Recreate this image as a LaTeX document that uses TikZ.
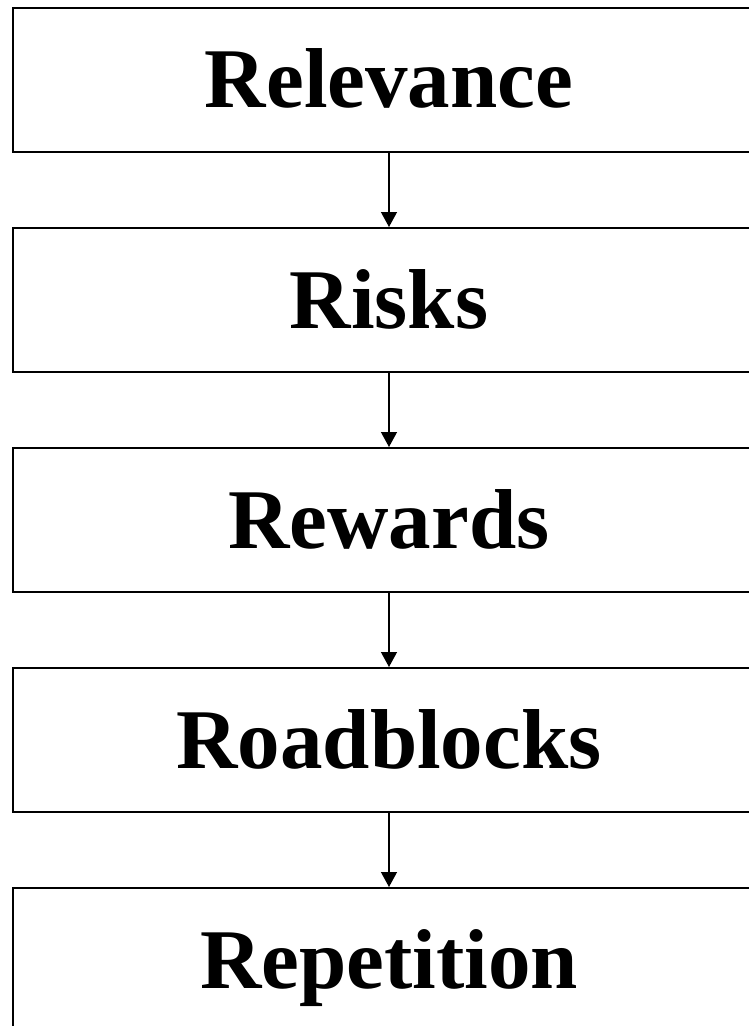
\documentclass[tikz,border=0pt]{standalone}
\usepackage{fontspec}
\setmainfont{Liberation Serif}
\usetikzlibrary{arrows.meta}
\begin{document}
\begin{tikzpicture}[x=1pt,y=-1pt,
  stagebox/.style={draw=black, line width=2pt, fill=white, minimum width=752pt, minimum height=144pt,
    inner sep=0pt, text height=56pt, text depth=0pt,
    font=\fontsize{85}{100}\selectfont\bfseries},
  flow/.style={line width=1.3pt, -{Triangle[length=15pt,width=16pt]}}]
\useasboundingbox (0,0) rectangle (748,1026);
\node[stagebox] (b1) at (389,79.5) {Relevance};
\node[stagebox] (b2) at (389,300) {Risks};
\node[stagebox] (b3) at (389,520) {Rewards};
\node[stagebox] (b4) at (389,740) {Roadblocks};
\node[stagebox] (b5) at (389,960) {Repetition};
\draw[flow] (b1.south) -- (b2.north);
\draw[flow] (b2.south) -- (b3.north);
\draw[flow] (b3.south) -- (b4.north);
\draw[flow] (b4.south) -- (b5.north);
\end{tikzpicture}
\end{document}
